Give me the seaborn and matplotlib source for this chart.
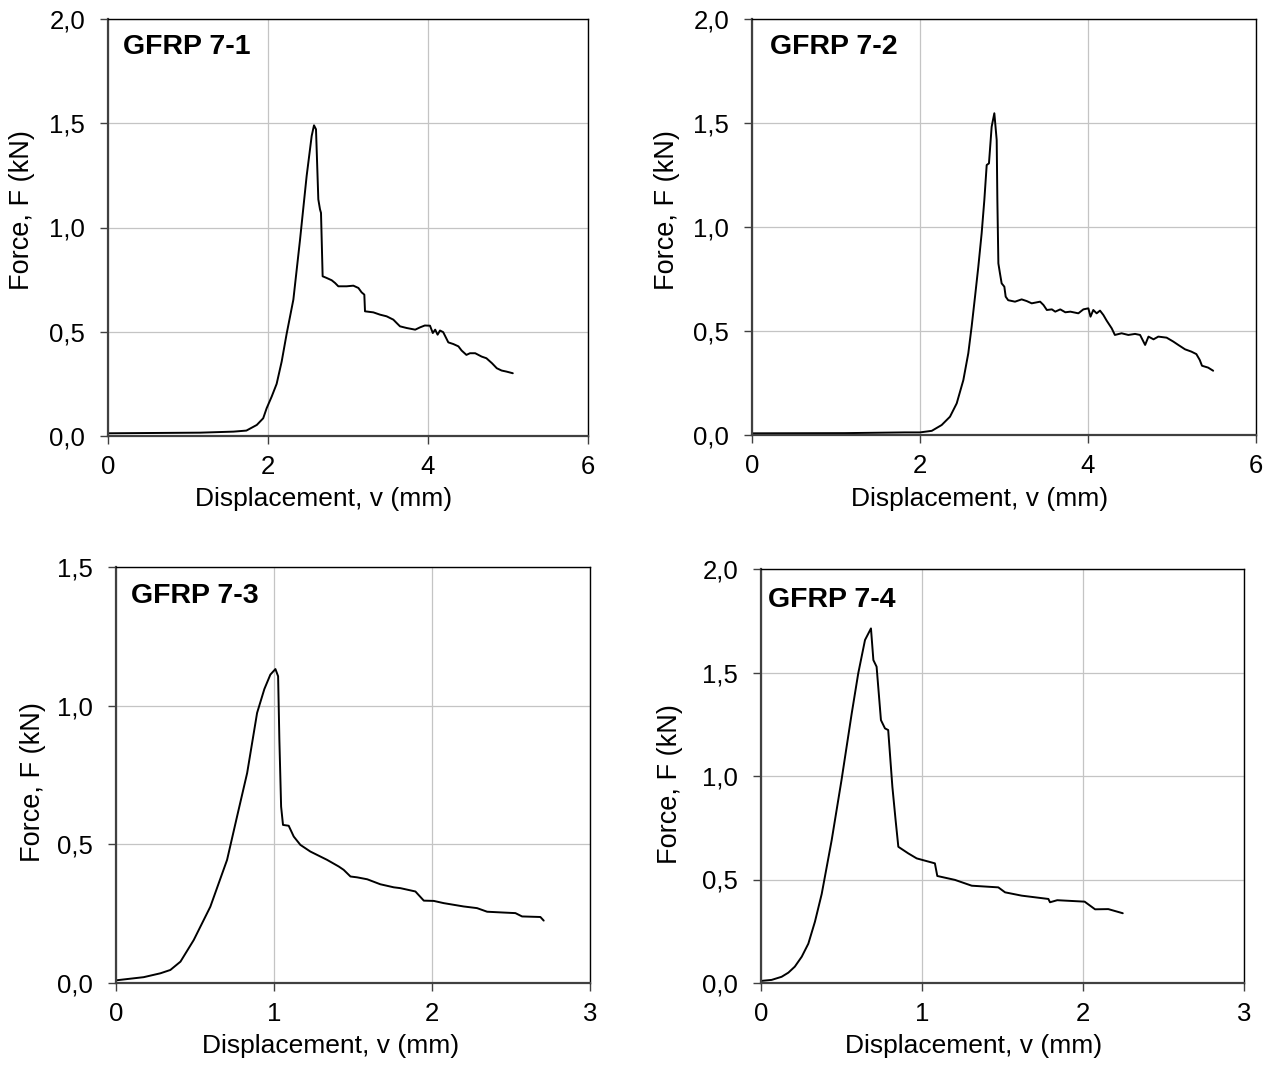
import numpy as np
import pandas as pd
import matplotlib
matplotlib.use("Agg")
import matplotlib.pyplot as plt
import seaborn as sns

# ---------------- data ----------------
titles = ["GFRP 7-1", "GFRP 7-2", "GFRP 7-3", "GFRP 7-4"]
x_label = "Displacement, v (mm)"
y_label = "Force, F (kN)"

x_7_1 = [0.0, 1.15, 1.57, 1.73, 1.86, 1.94, 1.983, 2.046, 2.108, 2.171, 2.233, 2.317, 2.40, 2.483,
         2.546, 2.575, 2.60, 2.629, 2.65, 2.6625, 2.683, 2.733, 2.796, 2.838, 2.879, 2.983, 3.067,
         3.13, 3.17, 3.204, 3.2125, 3.317, 3.40, 3.483, 3.567, 3.608, 3.65, 3.733, 3.84, 3.90, 3.96,
         4.025, 4.06, 4.09, 4.12, 4.15, 4.19, 4.254, 4.317, 4.38, 4.42, 4.48, 4.525, 4.59, 4.63, 4.67,
         4.73, 4.80, 4.86, 4.92, 4.98, 5.06]
f_7_1 = [0.013, 0.016, 0.021, 0.026, 0.053, 0.085, 0.133, 0.189, 0.25, 0.357, 0.49, 0.654, 0.94, 1.247,
         1.439, 1.49, 1.471, 1.135, 1.087, 1.07, 0.766, 0.758, 0.747, 0.734, 0.718, 0.718, 0.721,
         0.71, 0.689, 0.678, 0.598, 0.593, 0.582, 0.574, 0.558, 0.542, 0.526, 0.518, 0.51, 0.521, 0.530,
         0.529, 0.494, 0.51, 0.486, 0.506, 0.498, 0.449, 0.441, 0.43, 0.41, 0.389, 0.397, 0.397, 0.389, 0.381,
         0.373, 0.349, 0.325, 0.314, 0.309, 0.301]

x_7_2 = [0.0, 1.107, 1.82, 2.0, 2.14, 2.258, 2.357, 2.437, 2.516, 2.575, 2.615, 2.655, 2.694, 2.734,
         2.766, 2.794, 2.821, 2.853, 2.885, 2.913, 2.921, 2.933, 2.952, 2.972, 3.004, 3.02, 3.05, 3.131,
         3.21, 3.27, 3.33, 3.43, 3.47, 3.51, 3.57, 3.61, 3.67, 3.73, 3.79, 3.885, 3.945, 4.004, 4.03,
         4.063, 4.103, 4.143, 4.183, 4.222, 4.282, 4.32, 4.40, 4.48, 4.56, 4.62, 4.68, 4.72, 4.78, 4.837,
         4.936, 5.016, 5.075, 5.155, 5.23, 5.29, 5.33, 5.357, 5.43, 5.49]
f_7_2 = [0.008, 0.009, 0.0125, 0.0125, 0.02, 0.048, 0.088, 0.152, 0.264, 0.393, 0.522, 0.665, 0.808, 0.970,
         1.13, 1.298, 1.306, 1.482, 1.547, 1.418, 1.13, 0.825, 0.777, 0.729, 0.713, 0.665, 0.648, 0.641,
         0.652, 0.644, 0.633, 0.641, 0.625, 0.601, 0.604, 0.593, 0.604, 0.59, 0.593, 0.585, 0.604, 0.609, 0.569,
         0.601, 0.585, 0.598, 0.577, 0.55, 0.513, 0.481, 0.489, 0.481, 0.486, 0.481, 0.433, 0.473, 0.46, 0.473,
         0.468, 0.449, 0.433, 0.412, 0.401, 0.389, 0.361, 0.333, 0.324, 0.309]

x_7_3 = [0.006, 0.175, 0.281, 0.344, 0.408, 0.492, 0.597, 0.703, 0.766, 0.83, 0.893, 0.939, 0.977, 1.009,
         1.026, 1.034, 1.045, 1.057, 1.093, 1.125, 1.167, 1.23, 1.336, 1.41, 1.441, 1.484, 1.526, 1.59,
         1.673, 1.758, 1.80, 1.895, 1.948, 2.011, 2.074, 2.20, 2.285, 2.349, 2.454, 2.528, 2.57, 2.686, 2.707]
f_7_3 = [0.01, 0.021, 0.035, 0.047, 0.077, 0.155, 0.275, 0.444, 0.60, 0.757, 0.974, 1.06, 1.112, 1.132,
         1.106, 0.877, 0.636, 0.57, 0.567, 0.528, 0.498, 0.474, 0.444, 0.42, 0.408, 0.384, 0.381, 0.374,
         0.356, 0.345, 0.342, 0.33, 0.297, 0.296, 0.288, 0.276, 0.27, 0.257, 0.254, 0.252, 0.240, 0.238, 0.225]

x_7_4 = [0.0, 0.066, 0.128, 0.17, 0.21, 0.253, 0.294, 0.335, 0.377, 0.439, 0.50, 0.563, 0.604, 0.646,
         0.683, 0.698, 0.718, 0.745, 0.77, 0.79, 0.816, 0.836, 0.853, 0.915, 0.967, 1.08, 1.095, 1.205,
         1.309, 1.474, 1.516, 1.619, 1.785, 1.795, 1.84, 2.01, 2.075, 2.157, 2.247]
f_7_4 = [0.01, 0.015, 0.03, 0.05, 0.079, 0.127, 0.19, 0.296, 0.43, 0.69, 0.98, 1.30, 1.496, 1.657,
         1.713, 1.56, 1.528, 1.27, 1.23, 1.222, 0.948, 0.787, 0.658, 0.626, 0.602, 0.578, 0.517, 0.498,
         0.47, 0.462, 0.438, 0.422, 0.406, 0.39, 0.40, 0.393, 0.356, 0.357, 0.337]

x_ticks_a = [0, 2, 4, 6]
x_ticks_b = [0, 1, 2, 3]
y_ticks_a = [0.0, 0.5, 1.0, 1.5, 2.0]
y_ticks_b = [0.0, 0.5, 1.0, 1.5]
y_ticklabels_a = ["0,0", "0,5", "1,0", "1,5", "2,0"]
y_ticklabels_b = ["0,0", "0,5", "1,0", "1,5"]

series_x = [x_7_1, x_7_2, x_7_3, x_7_4]
series_f = [f_7_1, f_7_2, f_7_3, f_7_4]

# ---------------- style ----------------
sns.set_theme(style="white")
plt.rcParams["font.family"] = ["Liberation Sans", "DejaVu Sans"]
plt.rcParams["text.color"] = "black"

W, H = 1274, 1066
fig = plt.figure(figsize=(W / 100, H / 100), dpi=100)

# axes boxes in pixels: left, top, right, bottom
boxes = [(108, 19, 588, 436), (752, 19, 1256, 435), (116, 567, 590, 983), (761, 569, 1244, 983)]
xticks = [x_ticks_a, x_ticks_a, x_ticks_b, x_ticks_b]
yticks = [y_ticks_a, y_ticks_a, y_ticks_b, y_ticks_a]
ylabs = [y_ticklabels_a, y_ticklabels_a, y_ticklabels_b, y_ticklabels_a]
title_pos = [(122.7, 54), (770, 54), (131, 603), (768.3, 607)]
xlab_pos = [(324, 506), (980, 506), (331, 1053), (974, 1053)]
ylab_pos = [(22, 210), (667, 210), (33, 782), (670, 784)]

for i in range(4):
    l, t, r, b = boxes[i]
    ax = fig.add_axes([l / W, (H - b) / H, (r - l) / W, (b - t) / H])
    df = pd.DataFrame({"v": series_x[i], "F": series_f[i]})
    sns.lineplot(data=df, x="v", y="F", ax=ax, sort=False, estimator=None,
                 color="black", linewidth=1.4)
    ax.set_xlim(xticks[i][0], xticks[i][-1])
    ax.set_ylim(yticks[i][0], yticks[i][-1])
    ax.set_xticks(xticks[i])
    ax.set_xticklabels([str(v) for v in xticks[i]])
    ax.set_yticks(yticks[i])
    ax.set_yticklabels(ylabs[i])
    ax.set_xlabel("")
    ax.set_ylabel("")
    ax.grid(True, color="#c4c4c4", linewidth=0.9)
    ax.set_axisbelow(True)
    for s in ["left", "bottom"]:
        ax.spines[s].set_color("#404040")
        ax.spines[s].set_linewidth(1.6)
    for s in ["top", "right"]:
        ax.spines[s].set_color("black")
        ax.spines[s].set_linewidth(1.0)
    ax.tick_params(axis="both", which="major", direction="out", length=5.5, width=1.0,
                   color="#404040", labelsize=18.5, labelcolor="black")
    ax.tick_params(axis="x", pad=8, bottom=True)
    ax.tick_params(axis="y", pad=11, left=True)

    tx, ty = title_pos[i]
    fig.text(tx / W, 1 - ty / H, titles[i], fontsize=20.5, fontweight="bold",
             ha="left", va="baseline", color="black")
    lx, ly = xlab_pos[i]
    fig.text(lx / W, 1 - ly / H, x_label, fontsize=19, ha="center", va="baseline", color="black")
    yx, yy = ylab_pos[i]
    fig.text(yx / W, 1 - yy / H, y_label, fontsize=19.5, ha="center", va="center",
             rotation=90, color="black")

fig.savefig("out.png", dpi=100, facecolor="white")
